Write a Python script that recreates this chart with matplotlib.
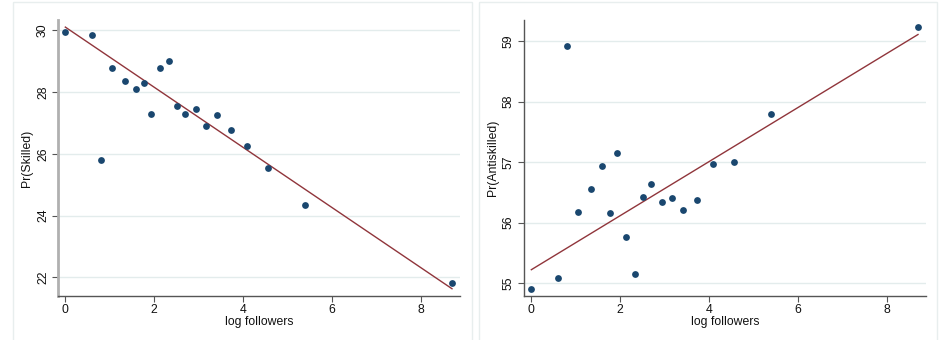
import numpy as np
import matplotlib
matplotlib.use("Agg")
import matplotlib.pyplot as plt
from matplotlib.patches import Rectangle

log_followers = [0.0, 0.59, 0.80, 1.06, 1.35, 1.58, 1.77, 1.93, 2.12, 2.34,
                 2.51, 2.70, 2.93, 3.16, 3.41, 3.72, 4.08, 4.57, 5.40, 8.70]
pr_skilled = [29.95, 29.86, 25.79, 28.77, 28.34, 28.11, 28.28, 27.28, 28.78, 29.01,
              27.56, 27.28, 27.46, 26.91, 27.25, 26.76, 26.26, 25.55, 24.35, 21.81]
pr_antiskilled = [54.90, 55.08, 58.92, 56.18, 56.56, 56.93, 56.16, 57.15, 55.76, 55.15,
                  56.43, 56.64, 56.34, 56.40, 56.21, 56.37, 56.96, 57.00, 57.80, 59.24]
# fitted line endpoints (value at x=0 and at x=8.70)
fit_skilled = [30.10, 21.63]
fit_antiskilled = [55.22, 59.11]
x_ticks = [0, 2, 4, 6, 8]
yticks_left = [22, 24, 26, 28, 30]
yticks_right = [55, 56, 57, 58, 59]

plt.rcParams['font.family'] = ['Liberation Sans', 'DejaVu Sans']

W, H = 944, 340
fig = plt.figure(figsize=(W / 100, H / 100), dpi=100)
fig.patch.set_facecolor('white')

# panel borders
for (x0, x1) in [(13, 472), (479, 937)]:
    fig.patches.append(Rectangle((x0 / W, -0.1), (x1 - x0) / W, (H + 40 - 8) / H,
                                 transform=fig.transFigure, fill=False,
                                 edgecolor='#e8eeee', lw=1))

navy = '#1a476f'
maroon = '#90353b'
FS = 8.8

def make(ax_px, y, fit, yticks, ylabel, ylim, spinecol, spinelw):
    l, r, b, t = ax_px
    ax = fig.add_axes([l / W, 1 - b / H, (r - l) / W, (b - t) / H])
    x = np.array(log_followers)
    yy = np.array(y)
    xs = [min(log_followers), max(log_followers)]
    ax.plot(xs, fit, color=maroon, lw=1.0, zorder=2)
    ax.scatter(x, yy, s=24, color=navy, zorder=3, linewidths=0)
    ax.set_xlim(-0.165, 8.88)
    ax.set_ylim(*ylim)
    ax.set_xticks(x_ticks)
    ax.set_yticks(yticks)
    ax.set_yticklabels([str(v) for v in yticks], rotation=90, va='center')
    ax.grid(axis='y', color='#e3ecec', lw=1)
    ax.set_axisbelow(True)
    for s in ['top', 'right']:
        ax.spines[s].set_visible(False)
    ax.spines['left'].set_color(spinecol)
    ax.spines['left'].set_linewidth(spinelw)
    ax.spines['bottom'].set_color('#555555')
    ax.spines['bottom'].set_linewidth(1.0)
    ax.tick_params(axis='both', direction='out', length=4, width=0.8,
                   color='#555555', labelsize=FS, labelcolor='#111111', pad=2.5)
    ax.tick_params(axis='x', pad=1.5)
    ax.set_xlabel('log followers', fontsize=FS, color='#111111', labelpad=0)
    ax.set_ylabel(ylabel, fontsize=FS, color='#111111', labelpad=3)
    return ax

make((58, 460, 296, 20), pr_skilled, fit_skilled, yticks_left, 'Pr(Skilled)',
     (21.395, 30.33), '#b0b0b0', 2.0)
make((524, 926, 296, 20), pr_antiskilled, fit_antiskilled, yticks_right, 'Pr(Antiskilled)',
     (54.785, 59.35), '#555555', 1.0)

fig.savefig('out.png', dpi=100)
